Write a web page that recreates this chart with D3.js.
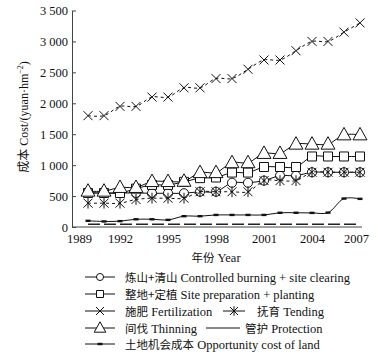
<!DOCTYPE html>
<html>
<head>
<meta charset="utf-8">
<script src="https://cdn.jsdelivr.net/npm/d3@7/dist/d3.min.js"></script>
<style>
  body { margin: 0; background: #fff; }
  svg { display: block; }
  text { font-family: "Liberation Serif", "DejaVu Serif", serif; fill: #111; }
  .cjk { font-family: "Noto Sans CJK SC", sans-serif; }
</style>
</head>
<body>
<svg width="379" height="359"></svg>
<script>
// years on the x axis
const years = [1990, 1991, 1992, 1993, 1994, 1995, 1996, 1997, 1998, 1999,
               2000, 2001, 2002, 2003, 2004, 2005, 2006, 2007];

// costs, yuan/hm2
const burning     = [550, 550, 550, 550, 545, 545, 545, 570, 570, 715, 715, 750, 830, 830, 885, 885, 885, 885];
const sitePrep    = [550, 550, 550, 620, 680, 680, 730, 790, 800, 880, 880, 970, 970, 970, 1140, 1140, 1140, 1140];
const fertilize   = [1800, 1800, 1950, 1950, 2100, 2100, 2250, 2250, 2400, 2400, 2550, 2700, 2700, 2850, 3000, 3000, 3150, 3300];
const tending     = [385, 385, 385, 445, 465, 465, 465, 570, 570, 570, 570, 750, 750, 750, 885, 885, 885, 885];
const thinning    = [580, 580, 640, 640, 735, 735, 740, 880, 880, 1040, 1040, 1190, 1190, 1340, 1340, 1340, 1490, 1490];
const protection  = [45, 45, 45, 45, 45, 45, 45, 45, 45, 45, 45, 45, 45, 45, 45, 45, 45, 45];
const opportunity = [100, 90, 95, 125, 125, 115, 175, 175, 195, 195, 195, 195, 230, 230, 228, 232, 460, 455];

// tick labels
const xTicks = [1989, 1992, 1995, 1998, 2001, 2004, 2007];
const yTicks = [0, 500, 1000, 1500, 2000, 2500, 3000, 3500];
const yTickLabels = ["0", "500", "1 000", "1 500", "2 000", "2 500", "3 000", "3 500"];

const svg = d3.select("svg");
const ink = "#111";

const x = d3.scaleLinear().domain([1989, 2007]).range([72, 360]);
const y = d3.scaleLinear().domain([0, 3500]).range([227, 10.5]);

// marker shapes
function marker(type, s) {
    if (type === "circle") return d3.symbol(d3.symbolCircle, s * s * 0.8)();
    if (type === "square") return `M${-s/2},${-s/2}h${s}v${s}h${-s}Z`;
    if (type === "triangle") return `M0,${-s*0.62}L${s*0.58},${s*0.42}L${-s*0.58},${s*0.42}Z`;
    if (type === "cross") return `M${-s/2},${-s/2}L${s/2},${s/2}M${-s/2},${s/2}L${s/2},${-s/2}`;
    if (type === "star") return `M${-s/2},${-s/2}L${s/2},${s/2}M${-s/2},${s/2}L${s/2},${-s/2}M0,${-s*0.6}L0,${s*0.6}`;
    if (type === "dash") return `M${-s/2},-1.2h${s}v2.4h${-s}Z`;
    return "";
}

const series = [
    { name: "opportunity", values: opportunity, mark: "dash", size: 5, dash: null, fill: ink },
    { name: "burning", values: burning, mark: "circle", size: 9, dash: null, fill: "#fff" },
    { name: "tending", values: tending, mark: "star", size: 9, dash: "3,3", fill: "none" },
    { name: "sitePrep", values: sitePrep, mark: "square", size: 9, dash: null, fill: "#fff" },
    { name: "thinning", values: thinning, mark: "triangle", size: 12, dash: null, fill: "#fff" },
    { name: "fertilize", values: fertilize, mark: "cross", size: 9, dash: "3,3", fill: "none" }
];

// axes
const gy = svg.append("g")
    .attr("transform", "translate(72,0)")
    .call(d3.axisLeft(y).tickValues(yTicks)
        .tickFormat((d, i) => yTickLabels[i])
        .tickSizeInner(-4).tickSizeOuter(0).tickPadding(4));
gy.select(".domain").attr("stroke", "#444");
gy.selectAll(".tick line").attr("stroke", "#444");
gy.selectAll("text").attr("font-size", "12.5px").attr("font-family", "Liberation Serif");

const gx = svg.append("g")
    .attr("transform", "translate(0,227)")
    .call(d3.axisBottom(x).tickValues(xTicks).tickFormat(d3.format("d"))
        .tickSize(0).tickPadding(7));
gx.select(".domain").attr("stroke", "#444").attr("d", "M72,0H362");
gx.selectAll("text").attr("font-size", "12.5px").attr("font-family", "Liberation Serif");
gx.selectAll(".tick text").attr("dx", d => d === 1989 ? 7 : (d === 2007 ? -4 : 0));

// protection line
svg.append("path")
    .datum(protection)
    .attr("fill", "none")
    .attr("stroke", "#222")
    .attr("stroke-width", 1.6)
    .attr("stroke-dasharray", "12,4")
    .attr("d", d3.line().x((d, i) => x(years[i])).y(d => y(d)));

// series lines and markers
const line = d3.line().curve(d3.curveCatmullRom.alpha(0.5));
series.forEach(s => {
    const pts = s.values.map((v, i) => [x(years[i]), y(v)]);
    svg.append("path")
        .attr("d", line(pts))
        .attr("fill", "none")
        .attr("stroke", ink)
        .attr("stroke-width", 1)
        .attr("stroke-dasharray", s.dash);
    svg.append("g").selectAll("path")
        .data(pts)
        .join("path")
        .attr("transform", d => `translate(${d[0]},${d[1]})`)
        .attr("d", marker(s.mark, s.size))
        .attr("fill", s.fill)
        .attr("stroke", ink)
        .attr("stroke-width", s.mark === "dash" ? 0 : 1);
});

// axis titles
const yt = svg.append("text")
    .attr("transform", "translate(28,117) rotate(-90)")
    .attr("text-anchor", "middle")
    .attr("font-size", "12px");
yt.append("tspan").attr("class", "cjk").text("成本");
yt.append("tspan").text(" Cost/(yuan·hm");
yt.append("tspan").attr("font-size", "8px").attr("dy", -5).text("−2");
yt.append("tspan").attr("dy", 5).text(")");

const xt = svg.append("text")
    .attr("x", 216).attr("y", 262)
    .attr("text-anchor", "middle")
    .attr("font-size", "12.5px");
xt.append("tspan").attr("class", "cjk").attr("font-size", "11.5px").text("年份");
xt.append("tspan").text(" Year");

// legend
const legendRows = [
    { y: 277, items: [{ x1: 85, x2: 115, mark: "circle", size: 7, fill: "#fff", cn: "炼山+清山", en: " Controlled burning + site clearing", tx: 125 }] },
    { y: 294, items: [{ x1: 85, x2: 115, mark: "square", size: 7, fill: "#fff", cn: "整地+定植", en: " Site preparation + planting", tx: 125 }] },
    { y: 311, items: [{ x1: 85, x2: 115, mark: "cross", size: 8, fill: "none", cn: "施肥", en: " Fertilization", tx: 125 },
                      { x1: 223, x2: 245, mark: "star", size: 8, fill: "none", cn: "抚育", en: " Tending", tx: 257 }] },
    { y: 328, items: [{ x1: 85, x2: 115, mark: "triangle", size: 10, fill: "#fff", cn: "间伐", en: " Thinning", tx: 125 },
                      { x1: 206, x2: 240, mark: null, cn: "管护", en: " Protection", tx: 245 }] },
    { y: 344, items: [{ x1: 85, x2: 115, mark: "dash", size: 5, fill: ink, cn: "土地机会成本", en: " Opportunity cost of land", tx: 125 }] }
];

legendRows.forEach(row => {
    row.items.forEach(it => {
        const g = svg.append("g").attr("transform", `translate(0,${row.y})`);
        g.append("line")
            .attr("x1", it.x1).attr("x2", it.x2)
            .attr("stroke", ink).attr("stroke-width", 1);
        if (it.mark) {
            g.append("path")
                .attr("transform", `translate(${(it.x1 + it.x2) / 2},0)`)
                .attr("d", marker(it.mark, it.size))
                .attr("fill", it.fill)
                .attr("stroke", ink)
                .attr("stroke-width", it.mark === "dash" ? 0 : 1);
        }
        const t = g.append("text")
            .attr("x", it.tx).attr("y", 4.5)
            .attr("font-size", "12.5px");
        t.append("tspan").attr("class", "cjk").attr("font-size", "11.5px").text(it.cn);
        t.append("tspan").text(it.en);
    });
});
</script>
</body>
</html>
